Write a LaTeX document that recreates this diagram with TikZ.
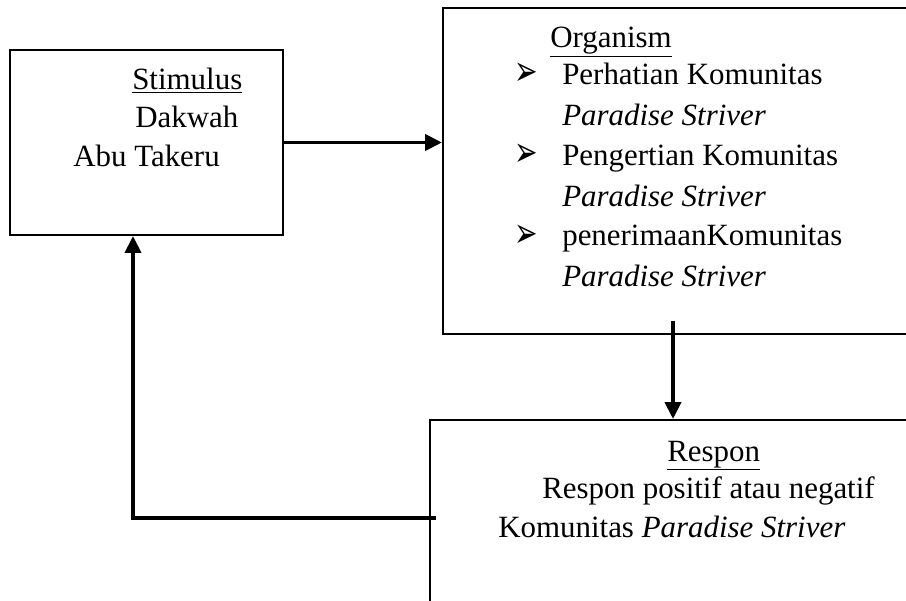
\documentclass[tikz,border=0pt]{standalone}
\usepackage{fontspec}
\setmainfont{Liberation Serif}
\newfontfamily\symfont{DejaVu Sans}
\usetikzlibrary{arrows.meta, positioning}

\begin{document}
\begin{tikzpicture}[
box/.style={draw, rectangle, line width=1.5pt, inner sep=0pt},
arrow/.style={-{Triangle[length=0.42cm, width=0.4cm]}, line width=2.6pt},
txt/.style={anchor=base west, inner sep=0pt, font=\fontsize{22}{26}\selectfont},
bul/.style={anchor=base west, inner sep=0pt, font=\symfont\fontsize{20}{24}\selectfont}
]
\useasboundingbox (0,0) rectangle (22.65,15);
\clip (0,0) rectangle (22.65,15);

\node[box, minimum width=6.825cm, minimum height=4.625cm] (stim) at (3.6625,11.4375) {};
\node[box, minimum width=12.175cm, minimum height=8.15cm] (org) at (17.1625,10.725) {};
\node[box, minimum width=12.5cm, minimum height=5.25cm] (resp) at (17,1.875) {};

% stimulus
\node[txt] (stimhead) at (3.3,12.75) {\underline{Stimulus}};
\node[txt] (stimline1) at (3.375,11.8) {Dakwah};
\node[txt] (stimline2) at (1.825,10.825) {Abu Takeru};

% organism
\node[txt] (orghead) at (13.75,13.8) {\underline{Organism}};
\node[bul] (bul1) at (12.85,12.85) {\scalebox{1}[1.5]{➢}};
\node[txt] (orgline1) at (14.05,12.875) {Perhatian Komunitas};
\node[txt] (orgline2) at (14.05,11.85) {\textit{Paradise Striver}};
\node[bul] (bul2) at (12.85,10.825) {\scalebox{1}[1.5]{➢}};
\node[txt] (orgline3) at (14.05,10.85) {Pengertian Komunitas};
\node[txt] (orgline4) at (14.05,9.825) {\textit{Paradise Striver}};
\node[bul] (bul3) at (12.85,8.825) {\scalebox{1}[1.5]{➢}};
\node[txt] (orgline5) at (14.05,8.85) {penerimaanKomunitas};
\node[txt] (orgline6) at (14.05,7.825) {\textit{Paradise Striver}};

% respon
\node[txt] (resphead) at (16.675,3.475) {\underline{Respon}};
\node[txt] (respline1) at (13.55,2.55) {Respon positif atau negatif};
\node[txt] (respline2) at (12.45,1.575) {Komunitas \textit{Paradise Striver}};

\coordinate (downstart) at (16.825,6.975);
\coordinate (backstart) at (10.9,2.05);
\coordinate (backturn) at (3.325,2.05);

\draw[arrow] (stim.east) -- (org.west |- stim.east);
\draw[arrow] (downstart) -- (downstart |- resp.north);
\draw[arrow] (backstart) -- (backturn) -- (backturn |- stim.south);

\end{tikzpicture}
\end{document}
